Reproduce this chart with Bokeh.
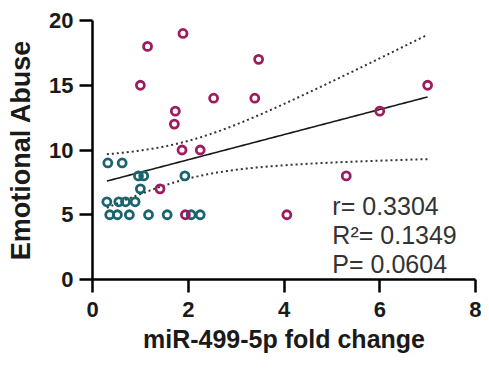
import numpy as np
from bokeh.plotting import figure
from bokeh.models import Range1d, Label, FixedTicker
from bokeh.embed import file_html
from bokeh.resources import INLINE

# Group 1 (magenta)
mag_x = [1.15, 1.89, 1.00, 3.47, 2.53, 3.39, 1.73, 1.71, 1.87, 2.25, 1.41, 1.94, 4.06, 5.30, 6.00, 7.00]
mag_y = [18, 19, 15, 17, 14, 14, 13, 12, 10, 10, 7, 5, 5, 8, 13, 15]
# Group 2 (teal)
teal_x = [0.32, 0.62, 0.96, 1.07, 1.93, 1.00, 0.30, 0.55, 0.69, 0.89, 0.36, 0.52, 0.77, 1.17, 1.56, 2.06, 2.25]
teal_y = [9, 9, 8, 8, 8, 7, 6, 6, 6, 6, 5, 5, 5, 5, 5, 5, 5]

x_ticks = [0, 2, 4, 6, 8]
y_ticks = [0, 5, 10, 15, 20]
stats = ["r= 0.3304", "R\u00b2= 0.1349", "P= 0.0604"]
x_title = "miR-499-5p fold change"
y_title = "Emotional Abuse"

MAG = "#9c1c5e"
TEAL = "#19646e"

# linear regression with 95% confidence band
ax = np.array(mag_x + teal_x)
ay = np.array(mag_y + teal_y, dtype=float)
n = len(ax)
b, a = np.polyfit(ax, ay, 1)
resid = ay - (a + b * ax)
s = np.sqrt(np.sum(resid ** 2) / (n - 2))
t = 2.04
xx = np.linspace(ax.min(), ax.max(), 100)
yy = a + b * xx
se = s * np.sqrt(1.0 / n + (xx - ax.mean()) ** 2 / np.sum((ax - ax.mean()) ** 2))
upper = yy + t * se
lower = yy - t * se

p = figure(width=481, height=361, output_backend="svg", toolbar_location=None,
           x_range=Range1d(0, 8), y_range=Range1d(0, 20),
           min_border_left=92, min_border_right=6, min_border_top=20, min_border_bottom=82)
p.outline_line_color = None
p.grid.visible = False
p.background_fill_color = "white"

p.line(xx, upper, line_color="#333333", line_width=2, line_dash="2 3")
p.line(xx, lower, line_color="#333333", line_width=2, line_dash="2 3")
p.line(xx, yy, line_color="#1a1a1a", line_width=1.6)

p.scatter(teal_x, teal_y, size=8, marker="circle", fill_color="white", fill_alpha=0,
          line_color=TEAL, line_width=2.8)
p.scatter(mag_x, mag_y, size=8, marker="circle", fill_color="white", fill_alpha=0,
          line_color=MAG, line_width=2.8)

for axis in (p.xaxis[0], p.yaxis[0]):
    axis.axis_line_width = 2.5
    axis.axis_line_color = "black"
    axis.major_tick_line_width = 2.5
    axis.major_tick_line_color = "black"
    axis.major_tick_out = 13
    axis.major_tick_in = 0
    axis.minor_tick_line_color = None
    axis.major_label_text_font = "Liberation Sans"
    axis.major_label_text_font_style = "bold"
    axis.major_label_text_font_size = "22px"
    axis.major_label_text_color = "#1a1a1a"
    axis.axis_label_text_font = "Liberation Sans"
    axis.axis_label_text_font_style = "bold"
    axis.axis_label_text_color = "#1a1a1a"

p.xaxis.ticker = FixedTicker(ticks=x_ticks)
p.yaxis.ticker = FixedTicker(ticks=y_ticks)
p.xaxis.major_label_standoff = 9
p.yaxis.major_label_standoff = 6
p.xaxis.axis_label = x_title
p.yaxis.axis_label = y_title
p.xaxis.axis_label_text_font_size = "25px"
p.yaxis.axis_label_text_font_size = "27px"
p.xaxis.axis_label_standoff = 5
p.yaxis.axis_label_standoff = 10

for i, txt in enumerate(stats):
    p.add_layout(Label(x=5.01, y=5.71 - 2.24 * i, text=txt, text_font="Liberation Sans",
                       text_font_size="25px", text_color="#333333", text_baseline="alphabetic"))

open("out.html", "w").write(file_html(p, INLINE))
